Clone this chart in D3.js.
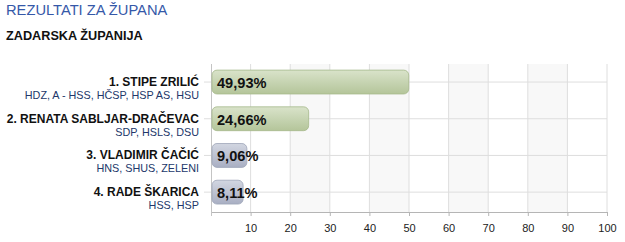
<!DOCTYPE html>
<html lang="hr">
<head>
<meta charset="UTF-8">
<title>Rezultati za župana</title>
<script src="https://d3js.org/d3.v7.min.js"></script>
<style>
  body { margin: 0; background: #fff; }
  text { font-family: Arial, "Liberation Sans", sans-serif; }
</style>
</head>
<body>
<svg width="625" height="242"></svg>
<script>
const names = ["1. STIPE ZRILIĆ", "2. RENATA SABLJAR-DRAČEVAC", "3. VLADIMIR ČAČIĆ", "4. RADE ŠKARICA"];
const parties = ["HDZ, A - HSS, HČSP, HSP AS, HSU", "SDP, HSLS, DSU", "HNS, SHUS, ZELENI", "HSS, HSP"];
const values = [49.93, 24.66, 9.06, 8.11];
const labels = ["49,93%", "24,66%", "9,06%", "8,11%"];
const xTicks = [10, 20, 30, 40, 50, 60, 70, 80, 90, 100];

const svg = d3.select("svg");

const x = d3.scaleLinear().domain([0, 100]).range([211, 607]);
const y = d3.scaleBand().domain(names).range([63.7, 210.5]).paddingInner(0.35).paddingOuter(0.175);
const plotTop = 64, plotBottom = 212;

// gradients
const defs = svg.append("defs");
function grad(id, c1, c2) {
  const g = defs.append("linearGradient").attr("id", id).attr("x1", 0).attr("y1", 0).attr("x2", 0).attr("y2", 1);
  g.append("stop").attr("offset", "0%").attr("stop-color", c1);
  g.append("stop").attr("offset", "100%").attr("stop-color", c2);
}
grad("gGreen", "#d9e3ca", "#b4c59a");
grad("gGray", "#d2d6e1", "#a9afc3");

svg.append("text").attr("x", 6).attr("y", 15).attr("fill", "#3558a8")
  .style("font-size", "14.7px").text("REZULTATI ZA ŽUPANA");
svg.append("text").attr("x", 6).attr("y", 40).attr("fill", "#111")
  .style("font-size", "12.7px").style("font-weight", "bold").text("ZADARSKA ŽUPANIJA");

// alternating bands
svg.append("g").selectAll("rect").data([20, 40, 60, 80]).join("rect")
  .attr("x", d => x(d)).attr("width", d => x(d + 10) - x(d))
  .attr("y", plotTop).attr("height", plotBottom - plotTop).attr("fill", "#f8f8f8");

// vertical grid
svg.append("g").selectAll("line").data(xTicks).join("line")
  .attr("x1", d => x(d)).attr("x2", d => x(d)).attr("y1", plotTop).attr("y2", plotBottom)
  .attr("stroke", "#dedede");

// horizontal grid at category centres
svg.append("g").selectAll("line").data(names).join("line")
  .attr("x1", x(0) - 7).attr("x2", x(100))
  .attr("y1", d => y(d) + y.bandwidth() / 2).attr("y2", d => y(d) + y.bandwidth() / 2)
  .attr("stroke", "#dedede");

// bottom axis
const xAxis = svg.append("g").attr("transform", `translate(0,${plotBottom})`)
  .call(d3.axisBottom(x).tickValues(xTicks).tickSize(4).tickPadding(8).tickFormat(d3.format("d")));
xAxis.select(".domain").attr("stroke", "#b5b5b5").attr("d", `M${x(0)},0.5H${x(100)}`);
xAxis.selectAll(".tick line").attr("stroke", "#b5b5b5");
xAxis.selectAll("text").attr("fill", "#222").style("font-size", "11px")
  .style("font-family", "Arial, 'Liberation Sans', sans-serif");

// left axis line
svg.append("line").attr("x1", x(0) + 0.5).attr("x2", x(0) + 0.5).attr("y1", plotTop).attr("y2", plotBottom + 4)
  .attr("stroke", "#c4c4c4");

// bars
svg.append("g").selectAll("rect").data(names).join("rect")
  .attr("x", x(0) + 1).attr("y", d => y(d))
  .attr("width", (d, i) => x(values[i]) - x(0) - 1).attr("height", y.bandwidth())
  .attr("rx", 5).attr("ry", 5)
  .attr("fill", (d, i) => i < 2 ? "url(#gGreen)" : "url(#gGray)")
  .attr("stroke", (d, i) => i < 2 ? "#a6b98b" : "#9da4b8").attr("stroke-width", 0.8);

// value labels
svg.append("g").selectAll("text").data(names).join("text")
  .attr("x", x(0) + 6).attr("y", d => y(d) + y.bandwidth() / 2 + 6)
  .attr("fill", "#111").style("font-size", "14.6px").style("font-weight", "bold")
  .text((d, i) => labels[i]);

// category labels
const lab = svg.append("g").selectAll("g").data(names).join("g");
lab.append("text").attr("x", 199).attr("y", d => y(d) + y.bandwidth() / 2 + 4)
  .attr("text-anchor", "end").attr("fill", "#111")
  .style("font-size", "12px").style("font-weight", "bold").text(d => d);
lab.append("text").attr("x", 199).attr("y", d => y(d) + y.bandwidth() / 2 + 17)
  .attr("text-anchor", "end").attr("fill", "#22376a")
  .style("font-size", "10.8px").text((d, i) => parties[i]);
</script>
</body>
</html>
